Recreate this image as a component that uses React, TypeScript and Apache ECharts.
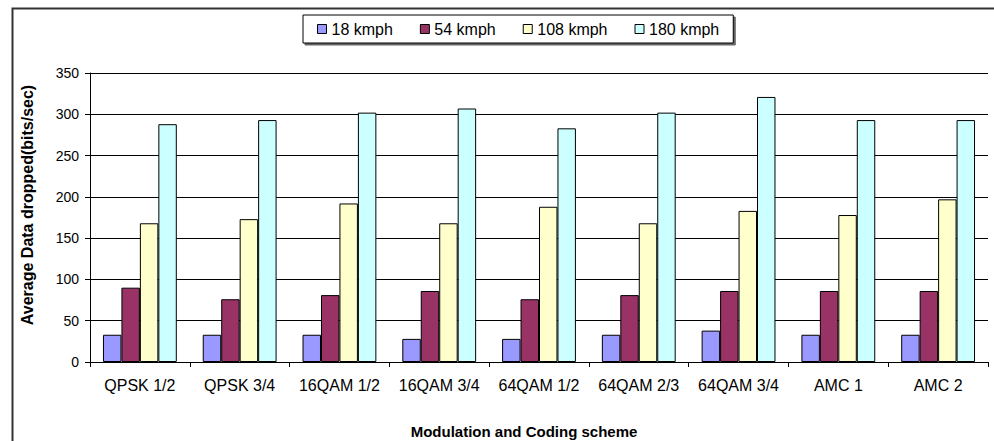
import React, { useEffect, useRef } from "react";
import * as echarts from "echarts";

const categories = ["QPSK 1/2", "QPSK 3/4", "16QAM 1/2", "16QAM 3/4", "64QAM 1/2", "64QAM 2/3", "64QAM 3/4", "AMC 1", "AMC 2"];
const seriesNames = ["18 kmph", "54 kmph", "108 kmph", "180 kmph"];
const s18 = [33, 33, 33, 28, 28, 33, 38, 33, 33];
const s54 = [90, 76, 81, 86, 76, 81, 86, 86, 86];
const s108 = [168, 173, 192, 168, 188, 168, 183, 178, 197];
const s180 = [288, 293, 302, 307, 283, 302, 321, 293, 293];
const colors = ["#9999FF", "#993366", "#FFFFCC", "#CCFFFF"];
const FONT = 'Arial, "Liberation Sans", sans-serif';

export default function App() {
  const ref = useRef<HTMLDivElement>(null);
  useEffect(() => {
    if (!ref.current) return;
    const chart = echarts.init(ref.current, null, { renderer: "svg" });
    const values = [s18, s54, s108, s180];
    chart.setOption({
      animation: false,
      backgroundColor: "#ffffff",
      textStyle: { fontFamily: FONT },
      grid: { left: 90, right: 6, top: 73, bottom: 79, containLabel: false },
      legend: {
        data: seriesNames,
        left: 303,
        top: 15,
        padding: [6, 14, 6, 14],
        itemGap: 27,
        itemWidth: 9,
        itemHeight: 9,
        icon: "rect",
        itemStyle: { borderColor: "#000", borderWidth: 1 },
        borderColor: "#000",
        borderWidth: 1,
        backgroundColor: "#fff",
        shadowColor: "rgba(0,0,0,0.6)",
        shadowOffsetX: 2,
        shadowOffsetY: 2,
        shadowBlur: 0,
        textStyle: { fontSize: 16, color: "#000", fontFamily: FONT },
      },
      xAxis: {
        type: "category",
        data: categories,
        axisLine: { lineStyle: { color: "#000", width: 1 } },
        axisTick: { show: true, alignWithLabel: false, length: 5, lineStyle: { color: "#000" } },
        axisLabel: { fontSize: 16, color: "#000", margin: 15, interval: 0, fontFamily: FONT },
        splitLine: { show: false },
      },
      yAxis: {
        type: "value",
        min: 0,
        max: 350,
        interval: 50,
        axisLine: { show: true, lineStyle: { color: "#000", width: 1 } },
        axisTick: { show: true, length: 5, lineStyle: { color: "#000" } },
        axisLabel: { fontSize: 14, color: "#000", margin: 11, fontFamily: FONT },
        splitLine: { show: true, lineStyle: { color: "#000", width: 1 } },
      },
      graphic: [
        {
          type: "rect",
          left: 10,
          top: 6,
          shape: { x: 0, y: 0, width: 1000, height: 460 },
          style: { fill: "none", stroke: "#333", lineWidth: 2 },
          silent: true,
          z: -1,
        },
        {
          type: "text",
          x: 27,
          y: 205,
          rotation: Math.PI / 2,
          style: {
            text: "Average Data dropped(bits/sec)",
            fontSize: 16,
            fontWeight: "bold",
            fontFamily: FONT,
            fill: "#000",
            align: "center",
            verticalAlign: "middle",
          },
        },
        {
          type: "text",
          x: 524,
          y: 431,
          style: {
            text: "Modulation and Coding scheme",
            fontSize: 15,
            fontWeight: "bold",
            fontFamily: FONT,
            fill: "#000",
            align: "center",
            verticalAlign: "middle",
          },
        },
      ],
      series: seriesNames.map((name, i) => ({
        name,
        type: "bar",
        data: values[i],
        barGap: "0%",
        barCategoryGap: "26%",
        itemStyle: { color: colors[i], borderColor: "#000", borderWidth: 1 },
      })),
    });
    return () => chart.dispose();
  }, []);
  return <div ref={ref} style={{ position: "fixed", left: 0, top: 0, width: 994, height: 441 }} />;
}
